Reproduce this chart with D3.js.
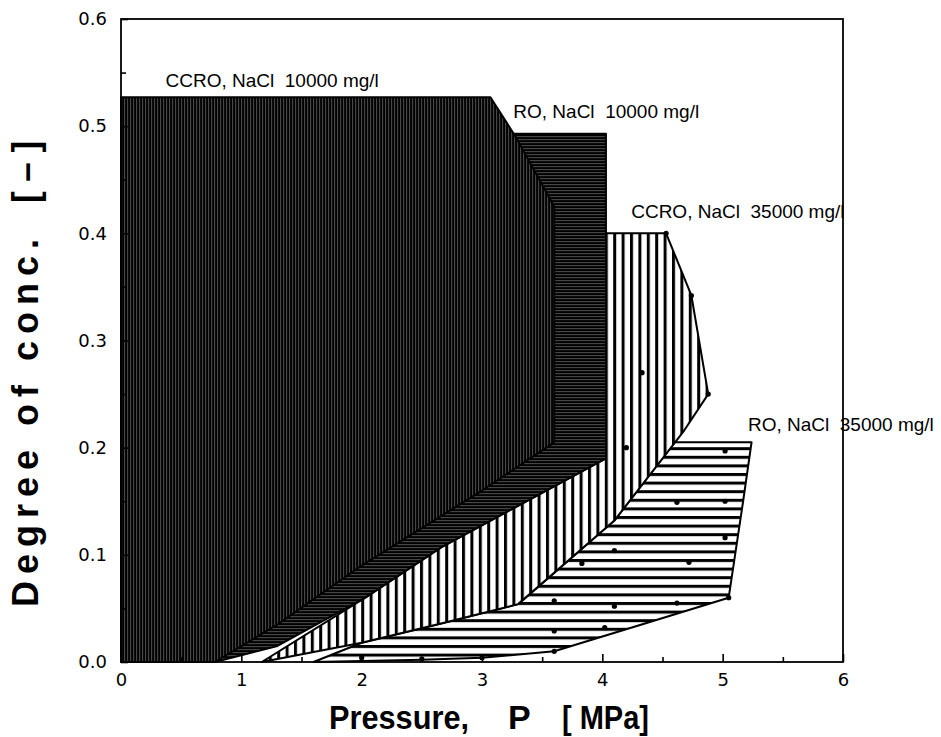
<!DOCTYPE html>
<html>
<head>
    <title>Degree of concentration vs pressure</title>
    <script src="https://d3js.org/d3.v7.min.js"></script>
    <style>
        body { margin: 0; background: #fff; }
        text { font-family: 'Liberation Sans', 'DejaVu Sans', sans-serif; fill: #000; white-space: pre; }
        .tick text { font-family: 'DejaVu Sans', sans-serif; font-size: 18px; }
        .domain { display: none; }
        .tick line { stroke: #000; stroke-width: 1.6; }
        .title { font-size: 34px; font-weight: bold; }
        .ytitle { font-family: 'DejaVu Sans', sans-serif; font-size: 36px; font-weight: bold; }
    </style>
</head>
<body>
<svg id="chart" width="941" height="737"></svg>
<script type="text/javascript">
    // operating envelopes, [pressure MPa, degree of conc.]
    var ccro10000 = [[0, 0], [0, 0.527], [3.07, 0.527], [3.28, 0.49], [3.6, 0.425], [3.6, 0.205],
                     [3.0, 0.16], [2.0, 0.09], [1.3, 0.035], [0.78, 0]];
    var ro10000 = [[0, 0], [0, 0.493], [4.03, 0.493], [4.03, 0.19], [2.66, 0.107], [2.03, 0.06],
                   [1.3, 0.015], [0.78, 0]];
    var ccro35000 = [[1.17, 0], [2.03, 0.06], [2.66, 0.107], [4.03, 0.19], [4.03, 0.40], [4.53, 0.40],
                     [4.74, 0.342], [4.88, 0.25], [4.68, 0.216], [4.1, 0.132], [3.3, 0.054],
                     [2.66, 0.036], [2.0, 0.018], [1.17, 0]];
    var ro35000 = [[1.6, 0], [2.5, 0.002], [3.0, 0.004], [3.6, 0.01], [4.3, 0.034], [5.05, 0.06],
                   [5.17, 0.15], [5.24, 0.205], [4.6, 0.205], [4.1, 0.132], [3.3, 0.054],
                   [2.66, 0.036], [2.0, 0.018]];

    // measured points
    var pointsCcro35000 = [[4.53, 0.40], [4.74, 0.342], [4.88, 0.25], [4.33, 0.27], [4.2, 0.2]];
    var pointsRo35000 = [[5.02, 0.197], [5.02, 0.15], [4.62, 0.149], [5.02, 0.116], [4.1, 0.104],
                         [4.72, 0.093], [3.83, 0.092], [3.6, 0.057], [4.1, 0.052], [4.62, 0.055],
                         [5.05, 0.06], [3.6, 0.029], [4.02, 0.032], [3.6, 0.01], [3.0, 0.004],
                         [2.5, 0.003], [2.0, 0.004]];

    var labels = ["CCRO, NaCl  10000 mg/l", "RO, NaCl  10000 mg/l", "CCRO, NaCl  35000 mg/l", "RO, NaCl  35000 mg/l"];
    var labelPos = [[0.37, 0.537], [3.26, 0.508], [4.24, 0.414], [5.21, 0.216]];

    var xMajor = [0, 1, 2, 3, 4, 5, 6];
    var xMinor = [0.5, 1.5, 2.5, 3.5, 4.5, 5.5];
    var yMajor = [0, 0.1, 0.2, 0.3, 0.4, 0.5, 0.6];
    var yMinor = [0.05, 0.15, 0.25, 0.35, 0.45, 0.55];

    var svg = d3.select("#chart");

    var x = d3.scaleLinear().domain([0, 6]).range([121, 843]);
    var y = d3.scaleLinear().domain([0, 0.6]).range([662, 19]);

    // hatch patterns
    var defs = svg.append("defs");

    var p1 = defs.append("pattern").attr("id", "fineV").attr("patternUnits", "userSpaceOnUse")
        .attr("width", 3).attr("height", 10);
    p1.append("rect").attr("width", 3).attr("height", 10).attr("fill", "#000");
    p1.append("rect").attr("x", 1.4).attr("width", 0.7).attr("height", 10).attr("fill", "#fff").attr("opacity", 0.45);

    var p2 = defs.append("pattern").attr("id", "fineH").attr("patternUnits", "userSpaceOnUse")
        .attr("width", 10).attr("height", 3);
    p2.append("rect").attr("width", 10).attr("height", 3).attr("fill", "#000");
    p2.append("rect").attr("y", 1.4).attr("width", 10).attr("height", 0.7).attr("fill", "#fff").attr("opacity", 0.45);

    var p3 = defs.append("pattern").attr("id", "coarseV").attr("patternUnits", "userSpaceOnUse")
        .attr("width", 8.4).attr("height", 10);
    p3.append("rect").attr("width", 8.4).attr("height", 10).attr("fill", "#fff");
    p3.append("rect").attr("width", 3).attr("height", 10).attr("fill", "#000");

    var p4 = defs.append("pattern").attr("id", "coarseH").attr("patternUnits", "userSpaceOnUse")
        .attr("width", 10).attr("height", 8.6);
    p4.append("rect").attr("width", 10).attr("height", 8.6).attr("fill", "#fff");
    p4.append("rect").attr("width", 10).attr("height", 3).attr("fill", "#000");

    var line = d3.line().x(d => x(d[0])).y(d => y(d[1]));

    function area(data, fill) {
        svg.append("path")
            .attr("d", line(data) + "Z")
            .attr("fill", "url(#" + fill + ")")
            .attr("stroke", "#000")
            .attr("stroke-width", 2)
            .attr("stroke-linejoin", "round");
    }

    area(ro35000, "coarseH");
    area(ccro35000, "coarseV");
    area(ro10000, "fineH");
    area(ccro10000, "fineV");

    svg.selectAll("circle.pt")
        .data(pointsCcro35000.concat(pointsRo35000))
        .enter().append("circle")
        .attr("class", "pt")
        .attr("cx", d => x(d[0]))
        .attr("cy", d => y(d[1]))
        .attr("r", 2.6)
        .attr("fill", "#000");

    // frame
    svg.append("rect")
        .attr("x", x(0)).attr("y", y(0.6))
        .attr("width", x(6) - x(0)).attr("height", y(0) - y(0.6))
        .attr("fill", "none").attr("stroke", "#000").attr("stroke-width", 1.8);

    // axes, ticks pointing inward
    svg.append("g").attr("transform", "translate(0," + y(0) + ")")
        .call(d3.axisBottom(x).tickValues(xMajor).tickSize(-8).tickPadding(11).tickFormat(d3.format("d")));
    svg.append("g").attr("transform", "translate(0," + y(0) + ")")
        .call(d3.axisBottom(x).tickValues(xMinor).tickSize(-5).tickFormat(""));
    svg.append("g").attr("transform", "translate(" + x(0) + ",0)")
        .call(d3.axisLeft(y).tickValues(yMajor).tickSize(-7).tickPadding(14).tickFormat(d3.format(".1f")));
    svg.append("g").attr("transform", "translate(" + x(0) + ",0)")
        .call(d3.axisLeft(y).tickValues(yMinor).tickSize(-5).tickFormat(""));

    // region labels
    svg.selectAll("text.lbl")
        .data(labels)
        .enter().append("text")
        .attr("class", "lbl")
        .attr("x", (d, i) => x(labelPos[i][0]))
        .attr("y", (d, i) => y(labelPos[i][1]))
        .style("font-size", "19px")
        .text(d => d);

    // axis titles
    var xt = svg.append("g").attr("class", "title");
    xt.append("text").attr("x", 329).attr("y", 729)
        .attr("textLength", 140).attr("lengthAdjust", "spacingAndGlyphs").text("Pressure,");
    xt.append("text").attr("x", 508).attr("y", 729).text("P");
    xt.append("text").attr("x", 562).attr("y", 729)
        .attr("textLength", 87).attr("lengthAdjust", "spacingAndGlyphs").text("[ MPa]");

    var yt = svg.append("g").attr("class", "ytitle").attr("transform", "translate(38,0) rotate(-90)");
    yt.append("text").attr("x", -607).attr("y", 0)
        .attr("textLength", 368).attr("lengthAdjust", "spacing").text("Degree of conc.");
    yt.append("text").attr("x", -203).attr("y", 0)
        .attr("textLength", 62).attr("lengthAdjust", "spacingAndGlyphs").text("[ \u2013 ]");
</script>
</body>
</html>
